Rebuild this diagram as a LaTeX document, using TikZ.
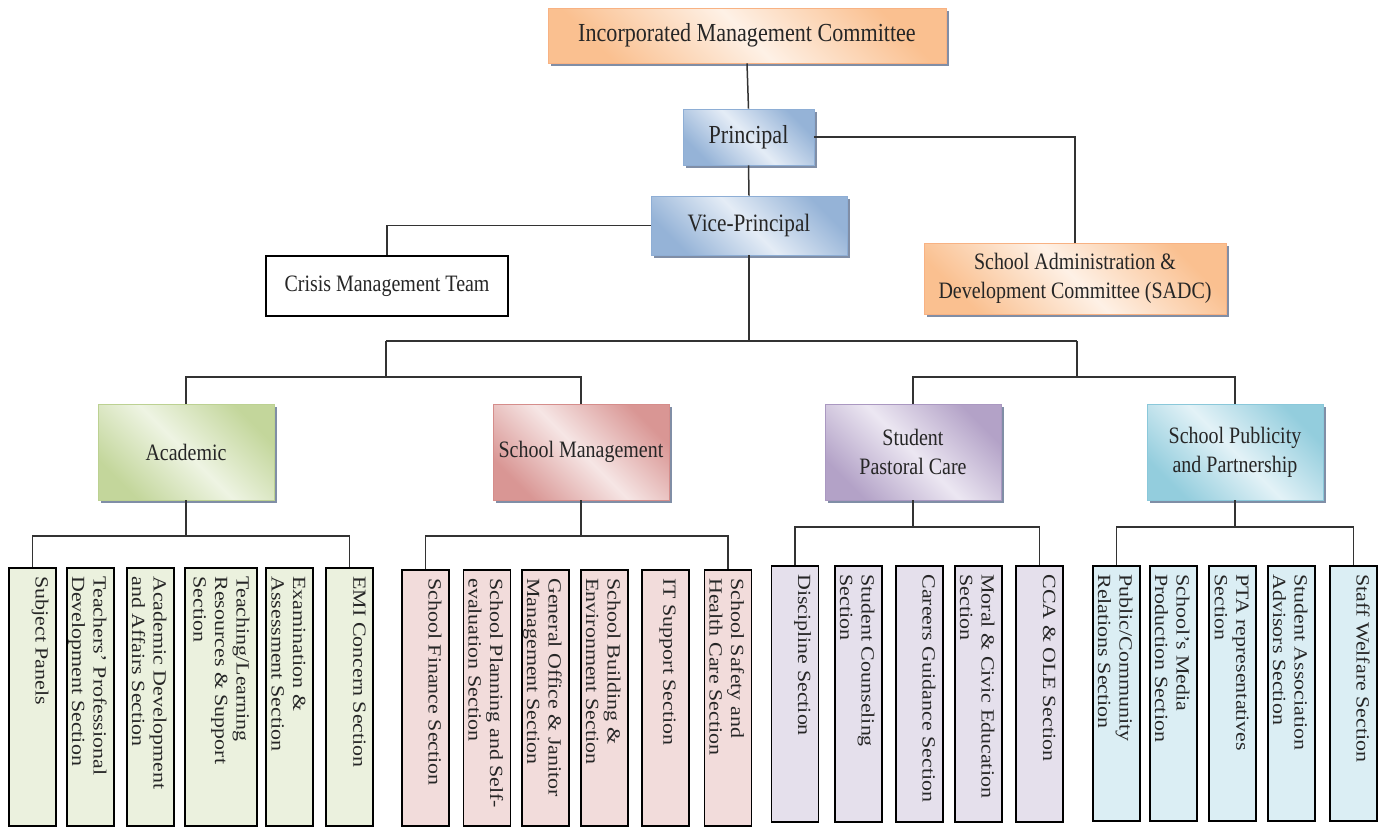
\documentclass[tikz,border=0pt]{standalone}
\usepackage{fontspec}
\setmainfont{Liberation Serif}
\newfontfamily\condfont[FakeStretch=0.85]{Liberation Serif}
\newfontfamily\leaffont[FakeStretch=1.18]{Liberation Serif}
\usetikzlibrary{shadows}
\definecolor{shadowc}{RGB}{128,142,166}
\definecolor{orD}{HTML}{FAC090}\definecolor{orL}{HTML}{FEF1E6}\definecolor{orB}{HTML}{F8B283}
\definecolor{blD}{HTML}{95B3D7}\definecolor{blL}{HTML}{E4ECF6}\definecolor{blB}{HTML}{8EAED5}
\definecolor{grD}{HTML}{C3D69B}\definecolor{grL}{HTML}{EEF4E3}\definecolor{grB}{HTML}{BCD192}
\definecolor{rdD}{HTML}{D99694}\definecolor{rdL}{HTML}{F6E6E5}\definecolor{rdB}{HTML}{D58D8B}
\definecolor{puD}{HTML}{B3A2C7}\definecolor{puL}{HTML}{ECE7F2}\definecolor{puB}{HTML}{AA98C1}
\definecolor{aqD}{HTML}{93CDDD}\definecolor{aqL}{HTML}{E3F2F7}\definecolor{aqB}{HTML}{8AC8DA}
\definecolor{grF}{HTML}{EBF1DE}\definecolor{rdF}{HTML}{F2DCDB}\definecolor{puF}{HTML}{E5E0EC}\definecolor{aqF}{HTML}{DBEEF4}
\begin{document}
\begin{tikzpicture}[x=1pt,y=-1pt,
  conn/.style={line width=1.5pt, draw=black!80},
  shadebox/.style n args={3}{rectangle, inner sep=0pt, align=center, draw=#1, line width=0.8pt,
     top color=#2, bottom color=#2, middle color=#3, shading angle=-45,
     drop shadow={shadow xshift=3pt, shadow yshift=-3pt, fill=shadowc, opacity=1}, text=black!85},
  hdrfont/.style={font=\condfont\fontsize{26}{30}\selectfont},
  midfont/.style={font=\condfont\fontsize{23.5}{29}\selectfont},
  orbox/.style={shadebox={orB}{orD}{orL}},
  blbox/.style={shadebox={blB}{blD}{blL}},
  grbox/.style={shadebox={grB}{grD}{grL}},
  rdbox/.style={shadebox={rdB}{rdD}{rdL}},
  pubox/.style={shadebox={puB}{puD}{puL}},
  aqbox/.style={shadebox={aqB}{aqD}{aqL}},
  catbox/.style={minimum width=176pt, minimum height=96pt, midfont},
  leaf/.style={rectangle, draw=black, line width=1.6pt, inner sep=0pt, minimum width=47pt, fill=#1},
  leaftext/.style={rotate=-90, anchor=north west, inner sep=0pt, align=left, text=black!85,
     font=\leaffont\fontsize{18.6}{21.5}\selectfont},
]
\useasboundingbox (0,0) rectangle (1386,827);

% top levels
\node[orbox, hdrfont, minimum width=398pt, minimum height=55pt] (imc) at (747,35.5) {Incorporated Management Committee};
\node[blbox, hdrfont, minimum width=131pt, minimum height=56pt] (pr) at (748.5,137) {Principal};
\node[blbox, font=\condfont\fontsize{25}{30}\selectfont, minimum width=196pt, minimum height=59pt] (vp) at (749,225.5) {Vice-Principal};
\node[rectangle, draw=black, line width=1.6pt, fill=white, minimum width=242pt, minimum height=60pt, midfont, text=black!85] (cmt) at (387,286) {Crisis Management Team};
\node[orbox, midfont, minimum width=302pt, minimum height=71pt] (sadc) at (1075,278.5) {School Administration \&\\Development Committee (SADC)};

\draw[conn] (imc.south) -- (pr.north);
\draw[conn] (pr.south) -- (vp.north);
\draw[conn] (pr.east) -| (sadc.north);
\draw[conn] (vp.west) -| (cmt.north);

% categories
\node[grbox, catbox] (acad) at (186,452) {Academic};
\node[rdbox, catbox] (smg) at (581,452) {School Management};
\node[pubox, catbox] (spc) at (913,452) {Student\\Pastoral Care};
\node[aqbox, catbox] (spp) at (1235,452) {School Publicity\\and Partnership};

\coordinate (busL) at (386,341);
\coordinate (busR) at (1077,341);
\coordinate (barL) at (386,377);
\coordinate (barR) at (1077,377);
\draw[conn] (vp.south) -- (vp.south |- busL);
\draw[conn] (busL) -- (busR);
\draw[conn] (busL) -- (barL);
\draw[conn] (busR) -- (barR);
\draw[conn] (acad.north) |- (barL) -| (smg.north);
\draw[conn] (spc.north) |- (barR) -| (spp.north);

% academic leaves
\begin{scope}[every node/.append style={}]
\node[leaf=grF, minimum height=258pt] (a1) at (32.5,697) {};
\node[leaf=grF, minimum height=258pt] (a2) at (90.5,697) {};
\node[leaf=grF, minimum height=258pt] (a3) at (150.5,697) {};
\node[leaf=grF, minimum height=258pt, minimum width=72pt] (a4) at (221,697) {};
\node[leaf=grF, minimum height=258pt] (a5) at (289.5,697) {};
\node[leaf=grF, minimum height=258pt] (a6) at (349.5,697) {};
\end{scope}
\node[leaftext] at ([xshift=-8pt,yshift=-9pt]a1.north east) {Subject Panels};
\node[leaftext] at ([xshift=-8pt,yshift=-9pt]a2.north east) {Teachers’ Professional\\Development Section};
\node[leaftext] at ([xshift=-8pt,yshift=-9pt]a3.north east) {Academic Development\\and Affairs Section};
\node[leaftext] at ([xshift=-8pt,yshift=-9pt]a4.north east) {Teaching/Learning\\Resources \& Support\\Section};
\node[leaftext] at ([xshift=-8pt,yshift=-9pt]a5.north east) {Examination \&\\Assessment Section};
\node[leaftext] at ([xshift=-8pt,yshift=-9pt]a6.north east) {EMI Concern Section};
\coordinate (abar) at (186,536);
\draw[conn] (acad.south) -- (abar);
\draw[conn] (a1.north) |- (abar) -| (a6.north);

% school management leaves
\node[leaf=rdF, minimum height=256pt] (m1) at (425.5,698) {};
\node[leaf=rdF, minimum height=256pt] (m2) at (487,698) {};
\node[leaf=rdF, minimum height=256pt] (m3) at (545.5,698) {};
\node[leaf=rdF, minimum height=256pt] (m4) at (604.5,698) {};
\node[leaf=rdF, minimum height=256pt] (m5) at (665.5,698) {};
\node[leaf=rdF, minimum height=256pt] (m6) at (728,698) {};
\node[leaftext] at ([xshift=-8pt,yshift=-9pt]m1.north east) {School Finance Section};
\node[leaftext] at ([xshift=-8pt,yshift=-9pt]m2.north east) {School Planning and Self-\\evaluation Section};
\node[leaftext] at ([xshift=-8pt,yshift=-9pt]m3.north east) {General Office \& Janitor\\Management Section};
\node[leaftext] at ([xshift=-8pt,yshift=-9pt]m4.north east) {School Building \&\\Environment Section};
\node[leaftext] at ([xshift=-14pt,yshift=-9pt]m5.north east) {IT Support Section};
\node[leaftext] at ([xshift=-8pt,yshift=-9pt]m6.north east) {School Safety and\\Health Care Section};
\coordinate (mbar) at (581,536);
\draw[conn] (smg.south) -- (mbar);
\draw[conn] (m1.north) |- (mbar) -| (m6.north);

% student pastoral care leaves
\node[leaf=puF, minimum height=256pt] (s1) at (795,694) {};
\node[leaf=puF, minimum height=256pt] (s2) at (858.5,694) {};
\node[leaf=puF, minimum height=256pt] (s3) at (919.5,694) {};
\node[leaf=puF, minimum height=256pt] (s4) at (978.5,694) {};
\node[leaf=puF, minimum height=256pt] (s5) at (1039.5,694) {};
\node[leaftext] at ([xshift=-8pt,yshift=-9pt]s1.north east) {Discipline Section};
\node[leaftext] at ([xshift=-8pt,yshift=-9pt]s2.north east) {Student Counseling\\Section};
\node[leaftext] at ([xshift=-8pt,yshift=-9pt]s3.north east) {Careers Guidance Section};
\node[leaftext] at ([xshift=-8pt,yshift=-9pt]s4.north east) {Moral \& Civic Education\\Section};
\node[leaftext] at ([xshift=-8pt,yshift=-9pt]s5.north east) {CCA \& OLE Section};
\coordinate (sbar) at (913,527);
\draw[conn] (spc.south) -- (sbar);
\draw[conn] (s1.north) |- (sbar) -| (s5.north);

% publicity leaves
\node[leaf=aqF, minimum height=255pt] (p1) at (1116.5,693.5) {};
\node[leaf=aqF, minimum height=255pt] (p2) at (1173.5,693.5) {};
\node[leaf=aqF, minimum height=255pt] (p3) at (1232.5,693.5) {};
\node[leaf=aqF, minimum height=255pt] (p4) at (1291.5,693.5) {};
\node[leaf=aqF, minimum height=255pt] (p5) at (1353.5,693.5) {};
\node[leaftext] at ([xshift=-8pt,yshift=-9pt]p1.north east) {Public/Community\\Relations Section};
\node[leaftext] at ([xshift=-8pt,yshift=-9pt]p2.north east) {School’s Media\\Production Section};
\node[leaftext] at ([xshift=-8pt,yshift=-9pt]p3.north east) {PTA representatives\\Section};
\node[leaftext] at ([xshift=-8pt,yshift=-9pt]p4.north east) {Student Association\\Advisors Section};
\node[leaftext] at ([xshift=-8pt,yshift=-9pt]p5.north east) {Staff Welfare Section};
\coordinate (pbar) at (1235,527);
\draw[conn] (spp.south) -- (pbar);
\draw[conn] (p1.north) |- (pbar) -| (p5.north);
\end{tikzpicture}
\end{document}
